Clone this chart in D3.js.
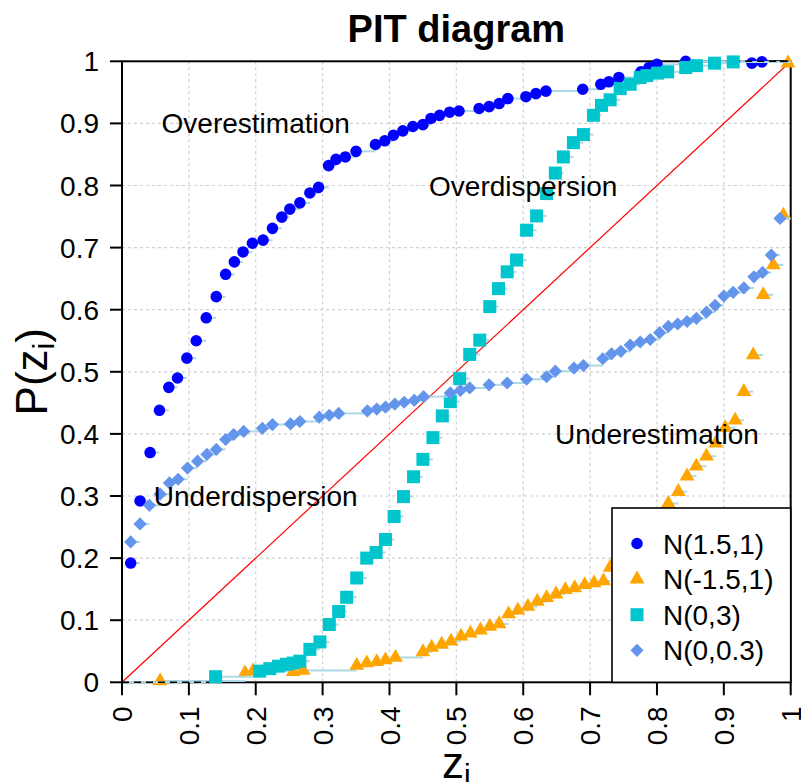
<!DOCTYPE html>
<html><head><meta charset="utf-8">
<script src="https://cdn.jsdelivr.net/npm/d3@7"></script>
<style>body{margin:0;background:#fff}text{font-family:"Liberation Sans",Arial,sans-serif}</style>
</head><body>
<svg id="c" width="801" height="782"></svg>
<script>
// ---------------- data ----------------
const xTickValues = [0,0.1,0.2,0.3,0.4,0.5,0.6,0.7,0.8,0.9,1];
const yTickValues = [0,0.1,0.2,0.3,0.4,0.5,0.6,0.7,0.8,0.9,1];
const tickLabels  = ["0","0.1","0.2","0.3","0.4","0.5","0.6","0.7","0.8","0.9","1"];
const seriesNames = ["N(1.5,1)","N(-1.5,1)","N(0,3)","N(0,0.3)"];

// N(1.5,1) : overestimation
const overX = [0.013,0.027,0.042,0.056,0.070,0.083,0.097,0.111,0.126,0.141,0.155,0.168,0.181,0.195,0.211,0.225,0.239,0.251,0.266,0.281,0.294,0.309,0.320,0.334,0.350,0.379,0.393,0.406,0.420,0.435,0.450,0.462,0.475,0.490,0.504,0.534,0.549,0.564,0.577,0.604,0.619,0.634,0.689,0.716,0.728,0.743,0.776,0.788,0.800,0.843,0.942,0.957];
const overY = [0.192,0.292,0.370,0.438,0.475,0.490,0.522,0.550,0.587,0.621,0.657,0.677,0.693,0.707,0.712,0.731,0.749,0.762,0.772,0.788,0.797,0.832,0.842,0.846,0.855,0.866,0.872,0.881,0.888,0.895,0.898,0.908,0.913,0.918,0.920,0.924,0.927,0.932,0.940,0.943,0.948,0.952,0.955,0.963,0.967,0.974,0.983,0.990,0.995,1.000,0.997,0.999];

// N(-1.5,1) : underestimation
const underX = [0.057,0.184,0.196,0.256,0.271,0.351,0.366,0.381,0.394,0.409,0.450,0.463,0.478,0.492,0.507,0.521,0.536,0.550,0.564,0.578,0.592,0.607,0.621,0.635,0.649,0.663,0.677,0.692,0.706,0.720,0.730,0.817,0.832,0.845,0.859,0.874,0.888,0.902,0.917,0.930,0.944,0.959,0.974,0.989,0.996];
const underY = [0.002,0.015,0.018,0.017,0.019,0.027,0.031,0.033,0.036,0.040,0.049,0.056,0.061,0.066,0.074,0.079,0.084,0.090,0.094,0.110,0.116,0.122,0.130,0.136,0.142,0.149,0.152,0.157,0.160,0.163,0.185,0.288,0.307,0.332,0.348,0.364,0.385,0.410,0.422,0.468,0.527,0.624,0.672,0.752,0.997];

// N(0,3) : overdispersion
const overdispX = [0.140,0.206,0.221,0.234,0.246,0.256,0.266,0.281,0.296,0.310,0.324,0.336,0.351,0.366,0.380,0.394,0.407,0.421,0.436,0.450,0.465,0.479,0.491,0.505,0.520,0.535,0.550,0.563,0.576,0.590,0.605,0.620,0.635,0.648,0.660,0.675,0.690,0.705,0.717,0.730,0.745,0.760,0.775,0.785,0.801,0.816,0.843,0.859,0.886,0.914];
const overdispY = [0.009,0.018,0.022,0.026,0.029,0.031,0.034,0.053,0.065,0.093,0.114,0.137,0.168,0.200,0.209,0.230,0.267,0.299,0.331,0.359,0.394,0.429,0.452,0.489,0.528,0.551,0.605,0.634,0.661,0.680,0.728,0.751,0.787,0.820,0.846,0.869,0.882,0.913,0.929,0.938,0.956,0.963,0.974,0.977,0.981,0.983,0.990,0.993,0.997,0.999];

// N(0,0.3) : underdispersion
const underdispX = [0.013,0.027,0.041,0.057,0.071,0.084,0.098,0.113,0.127,0.141,0.155,0.167,0.182,0.210,0.225,0.252,0.266,0.295,0.310,0.324,0.367,0.381,0.394,0.408,0.422,0.437,0.451,0.491,0.506,0.520,0.549,0.576,0.605,0.635,0.648,0.676,0.690,0.719,0.732,0.746,0.760,0.775,0.790,0.804,0.817,0.831,0.845,0.859,0.874,0.887,0.900,0.914,0.930,0.945,0.958,0.971,0.984];
const underdispY = [0.226,0.255,0.285,0.303,0.321,0.327,0.345,0.356,0.367,0.375,0.391,0.399,0.404,0.409,0.415,0.416,0.420,0.427,0.430,0.433,0.437,0.440,0.443,0.448,0.451,0.454,0.460,0.466,0.470,0.474,0.479,0.482,0.488,0.492,0.501,0.506,0.510,0.521,0.529,0.533,0.543,0.548,0.552,0.563,0.573,0.577,0.581,0.586,0.596,0.607,0.622,0.628,0.635,0.653,0.660,0.688,0.747];

const annotations = [
  {text:"Overestimation", x:0.2, y:0.9},
  {text:"Overdispersion", x:0.6, y:0.8},
  {text:"Underdispersion", x:0.2, y:0.3},
  {text:"Underestimation", x:0.8, y:0.4}
];

// ---------------- drawing ----------------
const svg = d3.select("#c");
const W = 801, H = 782;
const L = 122, R = 790.7, T = 61.3, B = 682.3;
const x = d3.scaleLinear().domain([0,1]).range([L,R]);
const y = d3.scaleLinear().domain([0,1]).range([B,T]);
const FONT = 28;

svg.append("rect").attr("width",W).attr("height",H).attr("fill","#fff");

// grid
const grid = svg.append("g").attr("stroke","#cfcfcf").attr("stroke-width",1.2).attr("stroke-dasharray","3,3");
xTickValues.slice(1,-1).forEach(v=>grid.append("line").attr("x1",x(v)).attr("x2",x(v)).attr("y1",T).attr("y2",B));
yTickValues.slice(1,-1).forEach(v=>grid.append("line").attr("y1",y(v)).attr("y2",y(v)).attr("x1",L).attr("x2",R));

// diagonal
svg.append("line").attr("x1",x(0)).attr("y1",y(0)).attr("x2",x(1)).attr("y2",y(1))
  .attr("stroke","#ff0000").attr("stroke-width",1.2);

// box
svg.append("rect").attr("x",L).attr("y",T).attr("width",R-L).attr("height",B-T)
  .attr("fill","none").attr("stroke","#000").attr("stroke-width",2);

// marker shapes
function markerPath(type){
  if(type==="circle") return d3.symbol(d3.symbolCircle, Math.PI*5.8*5.8)();
  if(type==="square") { const s=6.5; return `M${-s},${-s}H${s}V${s}H${-s}Z`; }
  if(type==="diamond"){ const s=6.6; return `M0,${-s}L${s},0L0,${s}L${-s},0Z`; }
  if(type==="triangle"){ const b=5.5, r=1.555*b, xc=1.3468*b, yc=0.7776*b; return `M0,${-r}L${xc},${yc}L${-xc},${yc}Z`; }
}

const series = [
  {name:seriesNames[0], xs:overX, ys:overY, color:"#0000ff", shape:"circle"},
  {name:seriesNames[1], xs:underX, ys:underY, color:"#ffa500", shape:"triangle"},
  {name:seriesNames[2], xs:overdispX, ys:overdispY, color:"#00c5cd", shape:"square"},
  {name:seriesNames[3], xs:underdispX, ys:underdispY, color:"#6495ed", shape:"diamond"}
];

series.forEach(s=>{
  const g = svg.append("g");
  const pts = s.xs.map((v,i)=>[v,s.ys[i]]);
  const segs = [[0,pts[0][0],0]];
  pts.forEach((p,i)=>{
    const nx = i<pts.length-1 ? pts[i+1][0] : 1;
    segs.push([p[0],nx,p[1]]);
  });
  g.selectAll("line.seg").data(segs).join("line")
    .attr("x1",d=>x(d[0])).attr("x2",d=>x(d[1])).attr("y1",d=>y(d[2])).attr("y2",d=>y(d[2]))
    .attr("stroke","#add8e6").attr("stroke-width",2);
  g.append("line").attr("x1",x(0)).attr("x2",x(pts[0][0])).attr("y1",y(0)).attr("y2",y(0))
    .attr("stroke","#000").attr("stroke-width",1.6).attr("stroke-dasharray","7,5");
  g.append("line").attr("x1",x(pts[pts.length-1][0])).attr("x2",x(1)).attr("y1",y(1)).attr("y2",y(1))
    .attr("stroke","#000").attr("stroke-width",1.6).attr("stroke-dasharray","7,5");
  g.selectAll("path.m").data(pts).join("path")
    .attr("d",markerPath(s.shape))
    .attr("transform",d=>`translate(${x(d[0])},${y(d[1])})`)
    .attr("fill",s.color);
});

// axes ticks & labels
const ax = svg.append("g");
yTickValues.forEach((v,i)=>{
  ax.append("line").attr("x1",L-12).attr("x2",L).attr("y1",y(v)).attr("y2",y(v)).attr("stroke","#000").attr("stroke-width",2);
  ax.append("text").attr("x",L-23).attr("y",y(v)).attr("dy","0.36em").attr("text-anchor","end")
    .attr("font-size",FONT).text(tickLabels[i]);
});
xTickValues.forEach((v,i)=>{
  ax.append("line").attr("x1",x(v)).attr("x2",x(v)).attr("y1",B).attr("y2",B+13).attr("stroke","#000").attr("stroke-width",2);
  ax.append("text").attr("transform",`translate(${x(v)},${B+24}) rotate(-90)`).attr("dy","0.36em")
    .attr("text-anchor","end").attr("font-size",FONT).text(tickLabels[i]);
});
ax.append("line").attr("x1",L).attr("x2",L).attr("y1",T).attr("y2",B).attr("stroke","#000").attr("stroke-width",2);

// title
svg.append("text").attr("x",(L+R)/2).attr("y",42).attr("text-anchor","middle")
  .attr("font-size",38).attr("font-weight","bold").text("PIT diagram");

// axis titles
const yl = svg.append("text").attr("transform",`translate(47,${(T+B)/2}) rotate(-90)`)
  .attr("text-anchor","middle").attr("font-size",44);
yl.append("tspan").text("P(z");
yl.append("tspan").attr("font-size",30).attr("dy","0.22em").text("i");
yl.append("tspan").attr("dy","-0.15em").text(")");

const xl = svg.append("text").attr("x",(L+R)/2).attr("y",778).attr("text-anchor","middle").attr("font-size",44);
xl.append("tspan").text("z");
xl.append("tspan").attr("font-size",30).attr("dy","0.22em").text("i");

// annotations
svg.selectAll("text.ann").data(annotations).join("text")
  .attr("x",d=>x(d.x)).attr("y",d=>y(d.y)).attr("dy","0.36em").attr("text-anchor","middle")
  .attr("font-size",FONT).text(d=>d.text);

// legend
const lg = svg.append("g");
const lgX = 612, lgY = 508;
lg.append("rect").attr("x",lgX).attr("y",lgY).attr("width",R-lgX).attr("height",B-lgY)
  .attr("fill","#fff").attr("stroke","#000").attr("stroke-width",1.6);
series.forEach((s,i)=>{
  const cy = 543.5 + i*35.6;
  lg.append("path").attr("d",markerPath(s.shape)).attr("transform",`translate(637,${cy})`).attr("fill",s.color);
  lg.append("text").attr("x",663).attr("y",cy).attr("dy","0.36em").attr("font-size",FONT).text(s.name);
});
</script>
</body></html>
